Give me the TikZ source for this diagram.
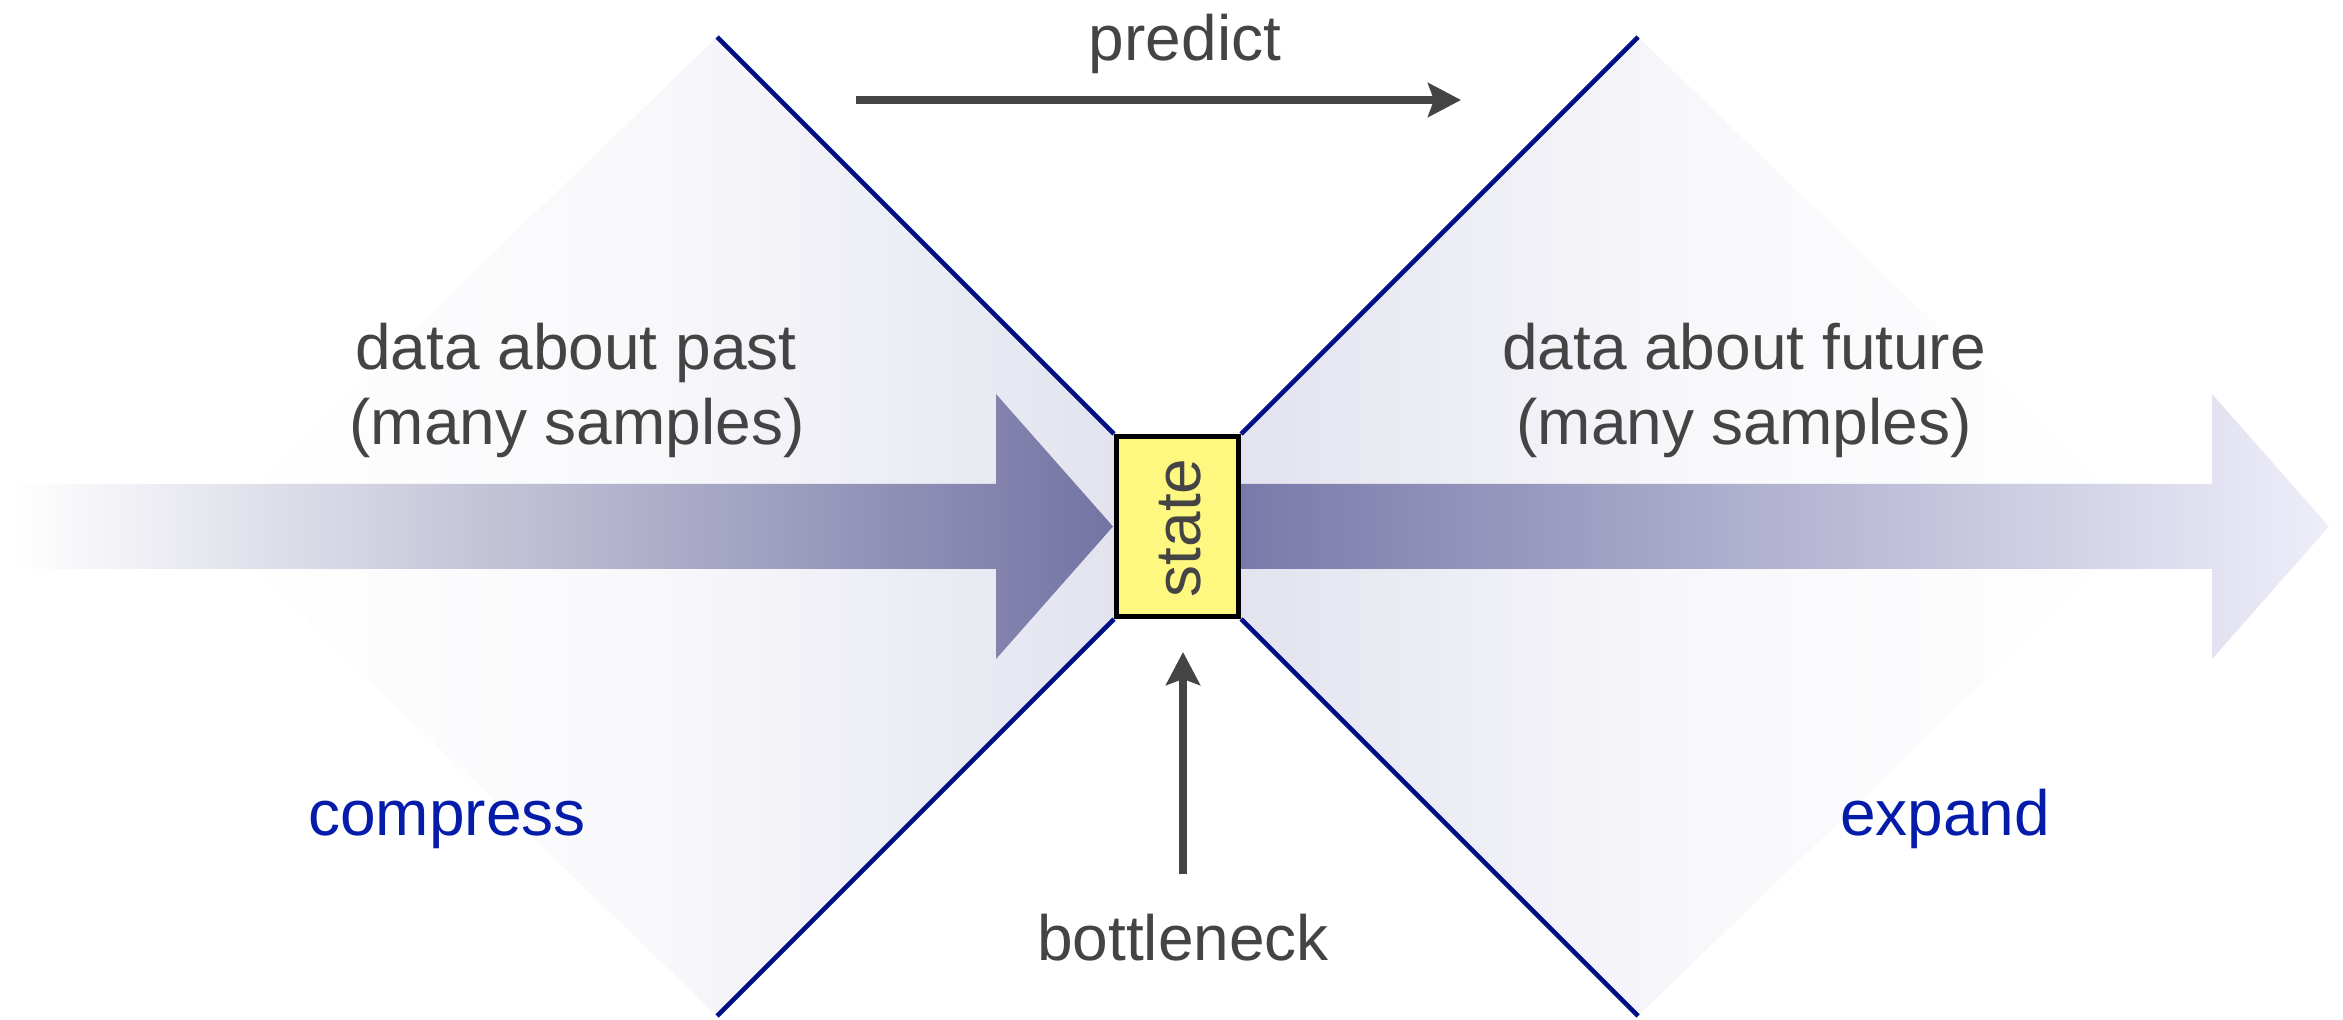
\documentclass[tikz,border=0pt]{standalone}
\usepackage{fontspec}
\setmainfont{Liberation Sans}
\usetikzlibrary{arrows.meta}

\definecolor{txtgray}{RGB}{68,68,68}
\definecolor{edgeblue}{RGB}{0,16,132}
\definecolor{labelblue}{RGB}{5,28,170}
\definecolor{haze}{RGB}{227,227,239}
\definecolor{hazemid}{RGB}{248,248,251}
\definecolor{flowdark}{RGB}{116,116,164}
\definecolor{flowstart}{RGB}{122,122,170}
\definecolor{flowend}{RGB}{238,238,250}
\definecolor{statefill}{RGB}{255,248,128}

\begin{document}
\begin{tikzpicture}[x=0.5pt,y=-0.5pt,
  lbl/.style={text=txtgray, font=\fontsize{32}{37.5}\selectfont, inner sep=0pt, anchor=base},
  bluelbl/.style={lbl, text=labelblue},
  funnel/.style={draw=edgeblue, line width=2.3pt},
  pointer/.style={draw=txtgray, line width=3.6pt,
    -{Stealth[length=16.5pt,width=17pt,inset=3pt]}},
  statebox/.style={draw=black, line width=2.4pt, fill=statefill,
    minimum width=61.2pt, minimum height=90.2pt, inner sep=0pt},
]
\useasboundingbox (0,0) rectangle (2343,1020);

% the bottleneck state
\node[statebox] (state) at (1177.5,526.5) {};

% outer corners of the two funnels
\coordinate (ltop) at (717,37);
\coordinate (lbot) at (717,1016);
\coordinate (rtop) at (1638,37);
\coordinate (rbot) at (1638,1016);

% faint shaded funnels (middle colour must come last)
\shade[left color=white, right color=haze, middle color=hazemid]
  (ltop) -- (state.north west) -- (state.south west) -- (lbot) -- (210,526.5) -- cycle;
\shade[left color=haze, right color=white, middle color=hazemid]
  (rtop) -- (2145,526.5) -- (rbot) -- (state.south east) -- (state.north east) -- cycle;

% funnel edges
\draw[funnel] (state.north west) -- (ltop);
\draw[funnel] (state.south west) -- (lbot);
\draw[funnel] (state.north east) -- (rtop);
\draw[funnel] (state.south east) -- (rbot);

% broad flow arrows
\shade[left color=white, right color=flowdark]
  (15,484) -- (996,484) -- (996,394) -- (1113,526.5) -- (996,659)
  -- (996,569) -- (15,569) -- cycle;
\shade[left color=flowstart, right color=flowend]
  (1241,484) -- (2212,484) -- (2212,394) -- (2329,526.5) -- (2212,659)
  -- (2212,569) -- (1241,569) -- cycle;

% redraw the box on top of the flows
\node[statebox] at (state.center) {};
\node[lbl, anchor=center, rotate=90] (statetxt) at (1180,528) {state};

% labels
\node[lbl] (pastA) at (576,370) {data about past};
\node[lbl] (pastB) at (577,445) {(many samples)};
\node[lbl] (futA) at (1744,370) {data about future};
\node[lbl] (futB) at (1744,445) {(many samples)};
\node[bluelbl] (compress) at (447,835) {compress};
\node[bluelbl] (expand) at (1945,835) {expand};
\node[lbl] (predict) at (1185,61) {predict};
\node[lbl] (bneck) at (1183,960) {bottleneck};

% thin pointers
\coordinate (pstart) at (856,100);
\coordinate (pend) at (1461,100);
\draw[pointer] (pstart) -- (pend);
\coordinate (bfoot) at (1183,874);
\coordinate (bhead) at (1183,652);
\draw[pointer] (bfoot) -- (bhead);
\end{tikzpicture}
\end{document}
